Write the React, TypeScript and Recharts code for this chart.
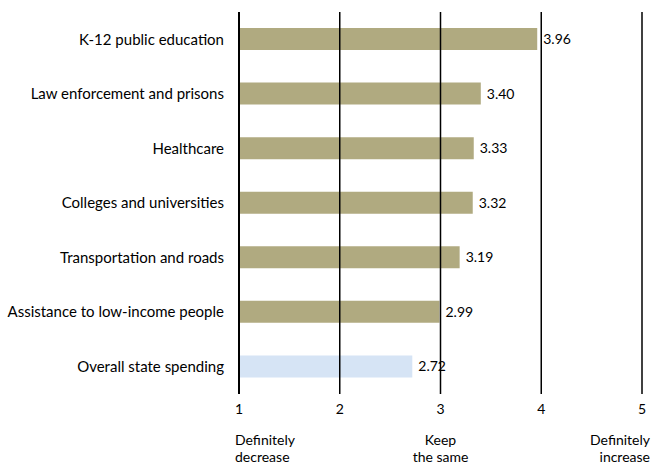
import { Bar, BarChart, Cell, LabelList, ReferenceLine, XAxis, YAxis } from 'recharts'

const categories = [
  'K-12 public education',
  'Law enforcement and prisons',
  'Healthcare',
  'Colleges and universities',
  'Transportation and roads',
  'Assistance to low-income people',
  'Overall state spending',
]
const scores = [3.96, 3.4, 3.33, 3.32, 3.19, 2.99, 2.72]
const xTicks = [1, 2, 3, 4, 5]
const scaleNotes: Record<number, string[]> = {
  1: ['Definitely', 'decrease'],
  3: ['Keep', 'the same'],
  5: ['Definitely', 'increase'],
}

const data = categories.map((name, i) => ({ name, value: scores[i] }))

const FONT = 'Lato, "Open Sans", sans-serif'

function ScaleTick(props: any) {
  const { x, y, payload } = props
  const v = payload.value as number
  const notes = scaleNotes[v]
  const anchor = v === 1 ? 'start' : v === 5 ? 'end' : 'middle'
  const nx = v === 1 ? x - 4 : v === 5 ? x + 8 : x
  return (
    <g>
      <text x={x} y={y + 20} textAnchor='middle' fontSize={14} fill='#000' fontFamily={FONT}>
        {v}
      </text>
      {notes &&
        notes.map((line, i) => (
          <text key={i} x={nx} y={y + 51 + i * 17} textAnchor={anchor} fontSize={14} fill='#000' fontFamily={FONT}>
            {line}
          </text>
        ))}
    </g>
  )
}

export default function App() {
  return (
    <div style={{ position: 'absolute', left: 0, top: 0, background: '#fff' }}>
      <BarChart
        width={653}
        height={472}
        data={data}
        layout='vertical'
        margin={{ top: 12, right: 11, bottom: 0, left: 0 }}
        barCategoryGap={16}
      >
        <XAxis
          type='number'
          domain={[1, 5]}
          ticks={xTicks}
          axisLine={false}
          tickLine={false}
          tickSize={0}
          tickMargin={0}
          height={78}
          tick={<ScaleTick />}
          interval={0}
        />
        <YAxis
          type='category'
          dataKey='name'
          width={239}
          axisLine={false}
          tickLine={false}
          tickSize={0}
          tickMargin={15}
          tick={{ fontSize: 15, fill: '#000', fontFamily: FONT }}
          interval={0}
        />
        <Bar dataKey='value' barSize={22} isAnimationActive={false}>
          {data.map((d, i) => (
            <Cell key={d.name} fill={i === data.length - 1 ? '#D6E4F5' : '#B0AA80'} />
          ))}
          <LabelList
            dataKey='value'
            position='right'
            offset={6}
            formatter={(v: any) => Number(v).toFixed(2)}
            style={{ fontSize: 14, fill: '#000', fontFamily: FONT }}
          />
        </Bar>
        {xTicks.map((t) => (
          <ReferenceLine key={t} x={t} stroke='#000' strokeWidth={t === 1 ? 2 : 1.5} />
        ))}
      </BarChart>
    </div>
  )
}
